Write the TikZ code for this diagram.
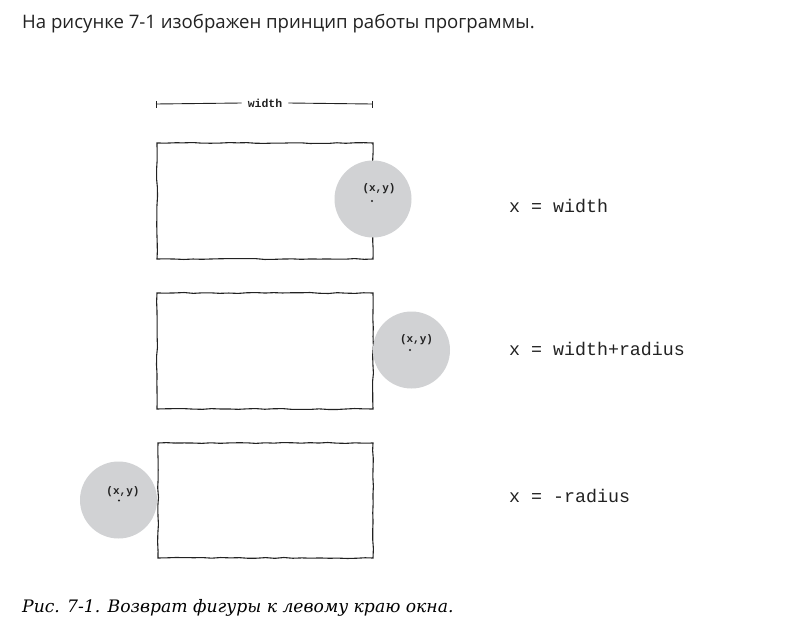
\documentclass[tikz,border=0pt]{standalone}
\usepackage{fontspec}
\setmainfont{DejaVu Serif}
\newfontfamily\bodyfont{Open Sans}
\newfontfamily\monofont{Liberation Mono}
\usetikzlibrary{decorations.pathmorphing}
\definecolor{discgray}{HTML}{D1D2D4}
\definecolor{inkc}{HTML}{222222}
\tikzset{
  winbox/.style={draw=inkc, line width=1.1pt, minimum width=216pt, minimum height=116pt,
    inner sep=0pt, decorate, decoration={random steps, segment length=9pt, amplitude=0.5pt}},
  disc/.style={circle, fill=discgray, minimum size=77pt, inner sep=0pt},
  xylabel/.style={font=\monofont\bfseries\fontsize{11}{13}\selectfont, text=inkc, inner sep=0pt},
  eqlabel/.style={font=\monofont\fontsize{18.3}{20}\selectfont, text=inkc, inner sep=0pt, anchor=base west},
  ctr/.style={circle, fill=inkc, inner sep=0pt, minimum size=2.4pt},
  dimline/.style={draw=inkc, line width=0.9pt}
}
\begin{document}
\begin{tikzpicture}[x=1pt,y=-1pt]
\useasboundingbox (0,0) rectangle (790,637);
\fill[white] (0,0) rectangle (790,637);
% top text
\node[anchor=base west, inner sep=0pt, font=\bodyfont\fontsize{18.6}{22}\selectfont, text=inkc] (intro) at (22,28) {На рисунке 7-1 изображен принцип работы программы.};
% width dimension
\node[xylabel, font=\monofont\bfseries\fontsize{11.5}{14}\selectfont, inner xsep=6pt] (wlab) at (265,103) {width};
\coordinate (wl) at (156,104);
\coordinate (wr) at (372,104);
\draw[dimline] (wl) -- (wlab.west);
\draw[dimline] (wlab.east) -- (wr);
\draw[dimline] ([yshift=-3.5pt]wl) -- ([yshift=3.5pt]wl);
\draw[dimline] ([yshift=-3.5pt]wr) -- ([yshift=3.5pt]wr);
% windows
\node[winbox] (win1) at (265,201) {};
\node[winbox] (win2) at (265,351) {};
\node[winbox, minimum width=215pt, minimum height=115pt] (win3) at (265.5,500.5) {};
% discs
\node[disc] (d1) at (373,199) {};
\node[disc] (d2) at (411.5,350) {};
\node[disc] (d3) at (118.5,500) {};
\node[ctr] (c1) at (372,201) {};
\node[ctr] (c2) at (410,350) {};
\node[ctr] (c3) at (119,500.5) {};
\node[xylabel] (p1) at (379,189) {(x,y)};
\node[xylabel] (p2) at (416.5,340) {(x,y)};
\node[xylabel] (p3) at (123,491.5) {(x,y)};
% equations
\node[eqlabel] (e1) at (509,212) {x = width};
\node[eqlabel] (e2) at (509,355) {x = width+radius};
\node[eqlabel] (e3) at (509,502) {x = -radius};
% caption
\node[anchor=base west, inner sep=0pt, font=\itshape\fontsize{17.2}{21}\selectfont, text=black] (cap) at (22,612) {Рис. 7-1. Возврат фигуры к левому краю окна.};
\end{tikzpicture}
\end{document}
